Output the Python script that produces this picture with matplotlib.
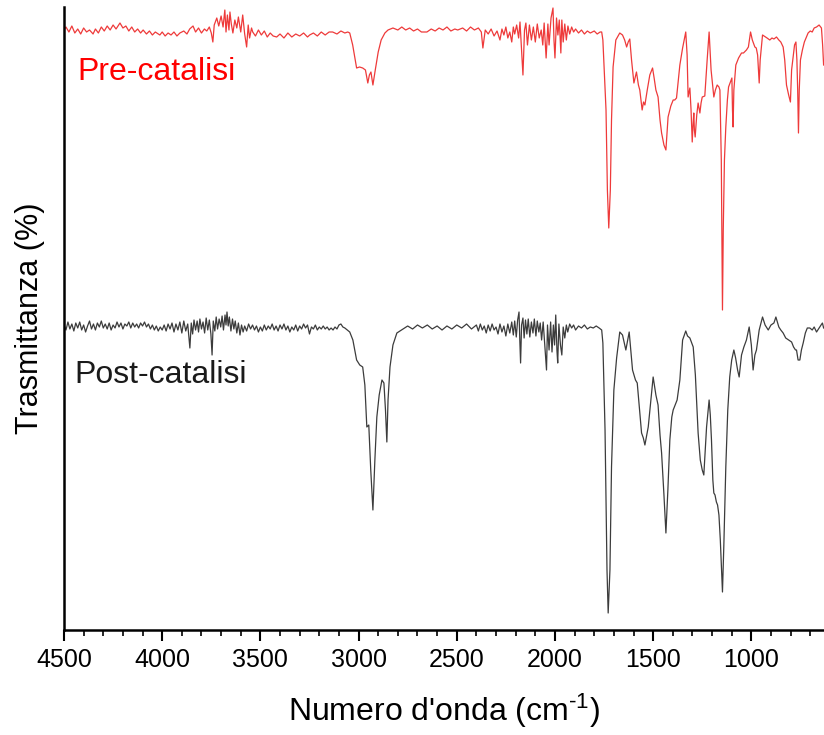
import matplotlib
matplotlib.use("Agg")
import matplotlib.pyplot as plt
from matplotlib.ticker import MultipleLocator

# spettro pre-catalisi (numero d'onda, trasmittanza in unita' arbitrarie)
pre_wn = [4500, 4490, 4475, 4460, 4445, 4430, 4415, 4400, 4385, 4370, 4352, 4340, 4325, 4310,
          4295, 4280, 4265, 4250, 4235, 4215, 4200, 4185, 4170, 4155, 4140, 4125, 4110, 4097,
          4080, 4065, 4050, 4035, 4012, 4000, 3985, 3970, 3955, 3940, 3925, 3910, 3890, 3874,
          3860, 3843, 3830, 3815, 3800, 3785, 3773, 3760, 3750, 3742, 3735, 3722, 3712, 3700,
          3690, 3681, 3675, 3668, 3660, 3655, 3648, 3640, 3630, 3620, 3612, 3600, 3590, 3580,
          3570, 3562, 3555, 3545, 3539, 3525, 3510, 3495, 3480, 3465, 3450, 3435, 3417, 3400,
          3380, 3360, 3340, 3320, 3300, 3280, 3260, 3249, 3230, 3210, 3190, 3170, 3150, 3132,
          3110, 3090, 3070, 3055, 3045, 3030, 3010, 2995, 2979, 2965, 2953, 2945, 2937, 2927,
          2915, 2900, 2885, 2866, 2850, 2825, 2800, 2780, 2760, 2740, 2720, 2700, 2680, 2652,
          2630, 2610, 2590, 2570, 2550, 2530, 2510, 2495, 2470, 2450, 2430, 2410, 2390, 2375,
          2367, 2355, 2340, 2325, 2310, 2295, 2280, 2270, 2260, 2250, 2240, 2230, 2220, 2212,
          2205, 2195, 2185, 2178, 2170, 2163, 2155, 2148, 2140, 2130, 2120, 2110, 2100, 2090,
          2080, 2070, 2062, 2055, 2045, 2036, 2030, 2020, 2010, 2005, 2000, 1992, 1985, 1978,
          1970, 1965, 1958, 1950, 1942, 1934, 1925, 1915, 1905, 1895, 1880, 1865, 1850, 1835,
          1820, 1800, 1785, 1770, 1762, 1756, 1740, 1733, 1726, 1718, 1712, 1704, 1690, 1670,
          1656, 1645, 1635, 1627, 1619, 1610, 1598, 1592, 1585, 1575, 1568, 1556, 1549, 1542,
          1530, 1517, 1503, 1495, 1486, 1475, 1465, 1457, 1445, 1435, 1428, 1424, 1410, 1398,
          1390, 1381, 1364, 1350, 1334, 1327, 1322, 1313, 1307, 1301, 1297, 1293, 1290, 1286,
          1278, 1271, 1262, 1256, 1250, 1237, 1225, 1215, 1205, 1191, 1183, 1174, 1165, 1160,
          1153, 1150, 1147, 1143, 1137, 1130, 1122, 1116, 1099, 1096, 1093, 1089, 1079, 1065,
          1050, 1040, 1025, 1015, 1004, 995, 982, 975, 968, 960, 955, 943, 935, 920,
          906, 895, 885, 872, 860, 850, 838, 830, 821, 810, 801, 795, 787, 780,
          773, 768, 764, 760, 756, 750, 740, 730, 711, 700, 690, 680, 668, 655,
          643, 637, 632]
pre_t = [600, 603, 598, 604, 597, 601, 596, 602, 598, 600, 596, 601, 597, 603,
         599, 604, 600, 605, 601, 607, 602, 604, 599, 603, 598, 601, 597, 600,
         596, 599, 595, 598, 595, 598, 594, 597, 595, 598, 594, 597, 599, 596,
         601, 604, 598, 602, 597, 601, 599, 603, 597, 588, 605, 612, 604, 614,
         603, 620, 598, 615, 600, 618, 606, 597, 610, 602, 613, 598, 615, 596,
         583, 605, 592, 602, 598, 594, 600, 595, 599, 593, 597, 594, 593, 596,
         592, 597, 593, 596, 594, 597, 593, 595, 597, 594, 598, 595, 598, 598,
         596, 599, 597, 598, 597, 585, 562, 563, 562, 560, 547, 555, 558, 545,
         560, 578, 590, 597, 600, 602, 600, 603, 600, 602, 599, 601, 598, 598,
         601, 599, 602, 600, 603, 599, 601, 600, 602, 599, 603, 600, 602, 598,
         582, 600, 596, 601, 594, 599, 590, 601, 595, 603, 592, 598, 588, 603,
         596, 605, 592, 608, 580, 555, 600, 607, 585, 605, 590, 603, 588, 606,
         592, 600, 585, 607, 572, 606, 585, 612, 622, 590, 572, 612, 595, 610,
         577, 610, 588, 606, 590, 604, 596, 603, 598, 601, 597, 600, 596, 599,
         597, 599, 596, 598, 598, 590, 520, 440, 402, 440, 510, 563, 590, 597,
         595, 590, 583, 588, 591, 570, 547, 552, 558, 545, 540, 520, 528, 525,
         540, 555, 562, 552, 540, 533, 510, 497, 485, 480, 500, 513, 524, 530,
         530, 532, 565, 582, 598, 575, 533, 542, 520, 488, 505, 517, 500, 493,
         515, 527, 517, 527, 533, 534, 570, 598, 560, 533, 540, 545, 543, 540,
         470, 400, 320, 400, 470, 503, 530, 543, 552, 520, 503, 540, 565, 572,
         577, 577, 580, 583, 598, 590, 583, 582, 575, 547, 570, 595, 594, 592,
         590, 592, 591, 593, 590, 588, 583, 570, 545, 535, 528, 560, 573, 585,
         588, 570, 540, 497, 540, 570, 580, 588, 597, 599, 598, 602, 603, 605,
         602, 585, 565]

# spettro post-catalisi
post_wn = [4500, 4490, 4480, 4470, 4460, 4450, 4440, 4430, 4420, 4410, 4400, 4390, 4380, 4370,
           4360, 4350, 4340, 4330, 4320, 4310, 4300, 4290, 4280, 4270, 4260, 4250, 4240, 4230,
           4220, 4210, 4200, 4190, 4180, 4170, 4160, 4150, 4140, 4130, 4120, 4110, 4100, 4090,
           4080, 4070, 4060, 4050, 4040, 4030, 4020, 4010, 4000, 3990, 3980, 3970, 3960, 3950,
           3940, 3930, 3920, 3910, 3900, 3890, 3880, 3870, 3859, 3852, 3845, 3838, 3830, 3822,
           3815, 3808, 3800, 3792, 3784, 3776, 3768, 3760, 3752, 3746, 3740, 3732, 3725, 3718,
           3710, 3702, 3695, 3688, 3680, 3675, 3670, 3664, 3658, 3650, 3642, 3635, 3628, 3620,
           3612, 3604, 3596, 3588, 3580, 3570, 3560, 3550, 3540, 3530, 3520, 3510, 3500, 3490,
           3480, 3470, 3460, 3450, 3440, 3430, 3420, 3410, 3400, 3390, 3380, 3370, 3360, 3350,
           3340, 3330, 3320, 3310, 3300, 3290, 3280, 3270, 3260, 3250, 3240, 3230, 3220, 3210,
           3200, 3190, 3180, 3170, 3160, 3150, 3140, 3130, 3120, 3110, 3100, 3090, 3080, 3070,
           3045, 3029, 3010, 2994, 2979, 2968, 2958, 2948, 2938, 2927, 2917, 2907, 2895, 2881,
           2871, 2863, 2856, 2850, 2840, 2825, 2805, 2774, 2750, 2725, 2700, 2675, 2650, 2625,
           2600, 2575, 2550, 2525, 2500, 2475, 2450, 2425, 2400, 2390, 2380, 2370, 2360, 2350,
           2340, 2330, 2320, 2310, 2300, 2290, 2280, 2270, 2260, 2250, 2240, 2230, 2220, 2212,
           2205, 2197, 2190, 2183, 2179, 2175, 2170, 2163, 2157, 2150, 2143, 2136, 2128, 2120,
           2112, 2105, 2097, 2090, 2082, 2075, 2068, 2060, 2052, 2043, 2038, 2030, 2022, 2015,
           2008, 2002, 1996, 1990, 1986, 1980, 1972, 1965, 1958, 1950, 1942, 1935, 1925, 1915,
           1905, 1895, 1880, 1865, 1850, 1835, 1820, 1805, 1790, 1775, 1762, 1756, 1745, 1735,
           1729, 1720, 1712, 1700, 1686, 1670, 1656, 1639, 1622, 1612, 1605, 1590, 1581, 1570,
           1559, 1550, 1542, 1525, 1513, 1500, 1492, 1486, 1475, 1465, 1457, 1445, 1435, 1425,
           1415, 1405, 1398, 1378, 1364, 1350, 1334, 1325, 1313, 1296, 1285, 1271, 1260, 1250,
           1242, 1235, 1228, 1215, 1209, 1203, 1196, 1191, 1185, 1178, 1172, 1165, 1158, 1147,
           1140, 1130, 1120, 1110, 1100, 1089, 1080, 1070, 1062, 1050, 1038, 1025, 1011, 1000,
           991, 982, 974, 960, 943, 930, 914, 900, 885, 875, 860, 850, 838, 825,
           810, 795, 785, 775, 770, 762, 753, 745, 736, 725, 715, 702, 690, 680,
           668, 655, 645, 638, 632]
post_t = [305, 300, 308, 301, 306, 299, 307, 302, 308, 300, 305, 298, 304, 309,
          301, 306, 300, 307, 303, 309, 302, 306, 301, 307, 300, 305, 302, 308,
          303, 307, 301, 306, 304, 308, 302, 307, 303, 306, 302, 307, 304, 308,
          303, 306, 301, 305, 300, 304, 299, 303, 300, 305, 299, 306, 301, 307,
          298, 306, 300, 308, 297, 309, 299, 306, 282, 307, 296, 310, 300, 309,
          298, 311, 301, 308, 297, 312, 300, 310, 296, 275, 309, 299, 313, 301,
          311, 303, 314, 300, 315, 305, 318, 304, 313, 299, 311, 301, 309, 297,
          307, 295, 305, 298, 304, 299, 306, 301, 305, 300, 304, 298, 303, 299,
          305, 300, 304, 301, 306, 300, 304, 299, 305, 301, 306, 300, 304, 298,
          303, 300, 305, 299, 304, 301, 306, 302, 305, 296, 303, 301, 305, 300,
          303, 301, 304, 301, 303, 300, 302, 300, 303, 301, 305, 306, 303, 302,
          298, 290, 270, 265, 263, 245, 203, 205, 160, 120, 170, 213, 235, 250,
          247, 220, 188, 230, 263, 285, 297, 301, 304, 301, 305, 302, 305, 301,
          304, 300, 304, 301, 305, 302, 306, 301, 305, 299, 306, 300, 304, 297,
          305, 299, 306, 300, 303, 296, 306, 298, 304, 294, 306, 297, 308, 295,
          309, 293, 310, 318, 290, 267, 305, 312, 292, 310, 296, 311, 293, 308,
          297, 311, 294, 309, 298, 307, 290, 308, 285, 260, 305, 280, 308, 278,
          305, 285, 315, 280, 267, 306, 285, 275, 303, 292, 305, 298, 306, 302,
          305, 300, 304, 302, 305, 301, 303, 302, 304, 302, 300, 287, 200, 60,
          17, 60, 163, 240, 272, 298, 295, 280, 298, 275, 260, 250, 247, 222,
          197, 192, 185, 203, 227, 253, 243, 235, 225, 195, 177, 135, 97, 140,
          190, 213, 220, 230, 250, 290, 299, 294, 292, 283, 255, 197, 170, 160,
          155, 180, 203, 230, 215, 190, 150, 137, 135, 128, 125, 115, 90, 38,
          85, 163, 220, 253, 270, 280, 272, 260, 253, 275, 283, 290, 303, 285,
          260, 275, 280, 300, 313, 305, 300, 305, 307, 313, 303, 300, 297, 292,
          290, 288, 283, 280, 280, 270, 270, 280, 287, 297, 302, 302, 300, 303,
          298, 302, 305, 307, 302]

x_ticks = [4500, 4000, 3500, 3000, 2500, 2000, 1500, 1000]

plt.rcParams['font.family'] = ['Liberation Sans', 'DejaVu Sans']
plt.rcParams['mathtext.fontset'] = 'custom'
plt.rcParams['mathtext.rm'] = 'Liberation Sans'
plt.rcParams['mathtext.it'] = 'Liberation Sans'

fig = plt.figure(figsize=(8.24, 7.35), dpi=100)
ax = fig.add_axes([64 / 824, 105 / 735, 760 / 824, 623 / 735])

ax.plot(pre_wn, pre_t, color='#ee3a3a', lw=0.9)
ax.plot(post_wn, post_t, color='#3c3c3c', lw=0.9)

ax.text(4430, 558, 'Pre-catalisi', color='#ff0000', fontsize=23, va='center', ha='left')
ax.text(4445, 255, 'Post-catalisi', color='#1a1a1a', fontsize=23, va='center', ha='left')

ax.set_xlim(4500, 630)
ax.set_ylim(0, 623)
ax.set_xticks(x_ticks)
ax.xaxis.set_minor_locator(MultipleLocator(100))
ax.set_yticks([])

for s in ['top', 'right']:
    ax.spines[s].set_visible(False)
for s in ['left', 'bottom']:
    ax.spines[s].set_linewidth(1.8)

ax.tick_params(axis='x', which='major', direction='out', length=8, width=1.5, labelsize=18, pad=5)
ax.tick_params(axis='x', which='minor', direction='out', length=4, width=1.2)

ax.set_xlabel("Numero d'onda (cm$^{\\text{-}1}$)", fontsize=23, labelpad=14)
ax.set_ylabel('Trasmittanza (%)', fontsize=22, labelpad=14)

fig.savefig('out.png', dpi=100)
